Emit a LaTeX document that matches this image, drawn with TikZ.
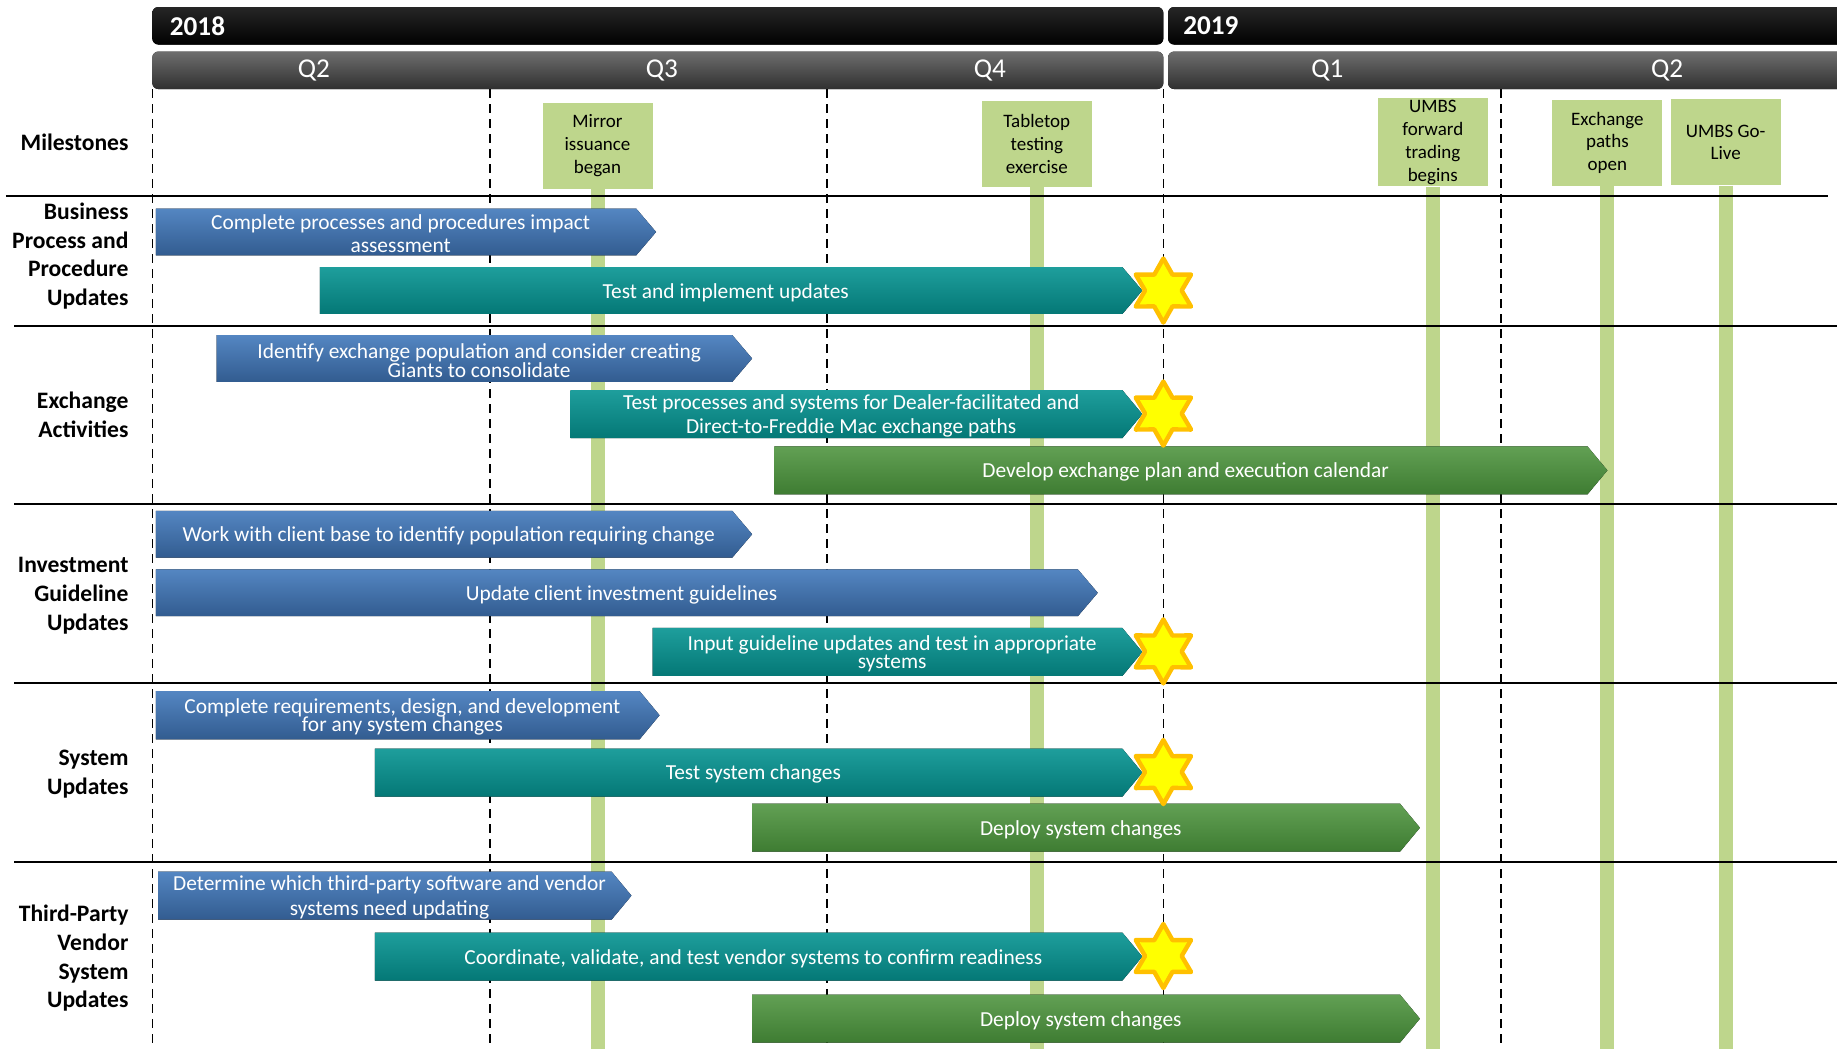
\documentclass[tikz,border=0pt]{standalone}
\usepackage{fontspec}
\setmainfont{Carlito}
\usepackage{tikz}
\usetikzlibrary{shapes.geometric}
\usepackage{xcolor}
\definecolor{msgreen}{RGB}{190,214,140}
\definecolor{bluetop}{RGB}{84,134,194}
\definecolor{bluebot}{RGB}{50,92,144}
\definecolor{tealtop}{RGB}{30,158,156}
\definecolor{tealbot}{RGB}{4,120,118}
\definecolor{greentop}{RGB}{98,160,84}
\definecolor{greenbot}{RGB}{62,124,50}
\definecolor{starfill}{RGB}{255,255,0}
\definecolor{starline}{RGB}{255,192,0}
\definecolor{qtop}{RGB}{110,110,110}
\definecolor{qbot}{RGB}{48,48,48}

\tikzset{
  yearbar/.style={top color=black!85,bottom color=black,rounded corners=3pt},
  qbar/.style={top color=qtop,bottom color=qbot,rounded corners=3pt},
  yeartext/.style={text=white,font=\bfseries\fontsize{13.6}{15}\selectfont,anchor=west},
  qtext/.style={text=white,font=\fontsize{13.6}{15}\selectfont},
  milestone/.style={fill=msgreen,align=center,minimum width=55pt,minimum height=43pt,
    inner sep=1pt,font=\fontsize{9.5}{11.4}\selectfont},
  stem/.style={msgreen,line width=7pt},
  rowlabel/.style={anchor=east,align=right,inner sep=0pt,font=\bfseries\fontsize{11.8}{14.4}\selectfont},
  sepline/.style={line width=1pt},
  qline/.style={line width=0.8pt,dash pattern=on 4.5pt off 3pt},
  bluephase/.style={top color=bluetop,bottom color=bluebot},
  tealphase/.style={top color=tealtop,bottom color=tealbot},
  greenphase/.style={top color=greentop,bottom color=greenbot},
  phasetext/.style={text=white,align=center,inner sep=0pt,font=\fontsize{10.7}{11.7}\selectfont},
  endstar/.style={star,star points=6,star point ratio=1.75,minimum size=32pt,inner sep=0pt,
    fill=starfill,draw=starline,line width=2.2pt,line join=round}
}

% style, name, left x, tip x, top y, bottom y, text
\newcommand{\phasearrow}[7]{%
  \fill[#1] (#3,#5) -- ({#4-17},#5) -- (#4,{(#5+#6)/2}) -- ({#4-17},#6) -- (#3,#6) -- cycle;
  \node[phasetext] (#2) at ({(#3+#4-17)/2+4},{(#5+#6)/2+1.5}) {#7};
}

\begin{document}
\begin{tikzpicture}[x=0.5858pt,y=-0.5858pt]
\useasboundingbox (0,0) rectangle (1568,895);

% milestones and their stems
\node[milestone] (mirror) at (510,124.5) {Mirror\\issuance\\began};
\node[milestone] (tabletop) at (885,123) {Tabletop\\testing\\exercise};
\node[milestone] (fwd) at (1223,121.5) {UMBS\\forward\\trading\\begins};
\node[milestone] (paths) at (1372,122) {Exchange\\paths\\open};
\node[milestone] (golive) at (1473,121.5) {UMBS Go-\\Live};
\coordinate (mirrorend) at (510,895);
\coordinate (tabletopend) at (885,895);
\coordinate (fwdend) at (1223,895);
\coordinate (pathsend) at (1372,895);
\coordinate (goliveend) at (1473,895);
\draw[stem] (mirror.south) -- (mirrorend);
\draw[stem] (tabletop.south) -- (tabletopend);
\draw[stem] (fwd.south) -- (fwdend);
\draw[stem] (paths.south) -- (pathsend);
\draw[stem] (golive.south) -- (goliveend);

% row separators
\draw[sepline] (5,167) -- (1560,167);
\draw[sepline] (12,278) -- (1568,278);
\draw[sepline] (12,430) -- (1568,430);
\draw[sepline] (12,583) -- (1568,583);
\draw[sepline] (12,736) -- (1568,736);

% quarter lines
\draw[qline] (130,76) -- (130,895);
\draw[qline] (418,76) -- (418,895);
\draw[qline] (706,76) -- (706,895);
\draw[qline] (993,76) -- (993,895);
\draw[qline] (1281,76) -- (1281,895);

% years and quarters
\fill[yearbar] (130,6) rectangle (993,38);
\fill[yearbar] (997,6) rectangle (1580,38);
\node[yeartext] (y2018) at (139,22) {2018};
\node[yeartext] (y2019) at (1004,22) {2019};
\fill[qbar] (130,44) rectangle (993,76);
\fill[qbar] (997,44) rectangle (1580,76);
\node[qtext] (q2a) at (268,60) {Q2};
\node[qtext] (q3) at (565,60) {Q3};
\node[qtext] (q4) at (845,60) {Q4};
\node[qtext] (q1) at (1133,60) {Q1};
\node[qtext] (q2b) at (1423,60) {Q2};

% row labels
\node[rowlabel] (lblms) at (110,121.5) {Milestones};
\node[rowlabel] (lblbpp) at (110,218.5) {Business\\Process and\\Procedure\\Updates};
\node[rowlabel] (lblex) at (110,354) {Exchange\\Activities};
\node[rowlabel] (lblinv) at (110,508.5) {Investment\\Guideline\\Updates};
\node[rowlabel] (lblsys) at (110,661) {System\\Updates};
\node[rowlabel] (lbltp) at (110,818) {Third-Party\\Vendor\\System\\Updates};

% business process
\phasearrow{bluephase}{bpp1}{133}{560}{178}{218}{Complete processes and procedures impact\\assessment}
\phasearrow{tealphase}{bpp2}{273}{975}{228}{268}{Test and implement updates}
% exchange
\phasearrow{bluephase}{ex1}{185}{642}{286}{326}{Identify exchange population and consider creating\\[-2.3pt]Giants to consolidate}
\phasearrow{tealphase}{ex2}{487}{975}{333}{374}{Test processes and systems for Dealer-facilitated and\\[0.6pt]Direct-to-Freddie Mac exchange paths}
\phasearrow{greenphase}{ex3}{661}{1372}{381}{422}{Develop exchange plan and execution calendar}
% investment guidelines
\phasearrow{bluephase}{inv1}{133}{642}{436}{476}{Work with client base to identify population requiring change}
\phasearrow{bluephase}{inv2}{133}{937}{486}{526}{Update client investment guidelines}
\phasearrow{tealphase}{inv3}{557}{975}{536}{577}{Input guideline updates and test in appropriate\\[-2.3pt]systems}
% systems
\phasearrow{bluephase}{sys1}{133}{563}{590}{631}{Complete requirements, design, and development\\[-2.3pt]for any system changes}
\phasearrow{tealphase}{sys2}{320}{975}{639}{680}{Test system changes}
\phasearrow{greenphase}{sys3}{642}{1212}{686}{727}{Deploy system changes}
% third-party vendors
\phasearrow{bluephase}{tp1}{135}{539}{744}{785}{Determine which third-party software and vendor\\[0.6pt]systems need updating}
\phasearrow{tealphase}{tp2}{320}{975}{796}{837}{Coordinate, validate, and test vendor systems to confirm readiness}
\phasearrow{greenphase}{tp3}{642}{1212}{849}{890}{Deploy system changes}

% end stars
\node[endstar] (star1) at (993,248) {};
\node[endstar] (star2) at (993,353) {};
\node[endstar] (star3) at (993,556) {};
\node[endstar] (star4) at (993,659) {};
\node[endstar] (star5) at (993,816) {};
\end{tikzpicture}
\end{document}
